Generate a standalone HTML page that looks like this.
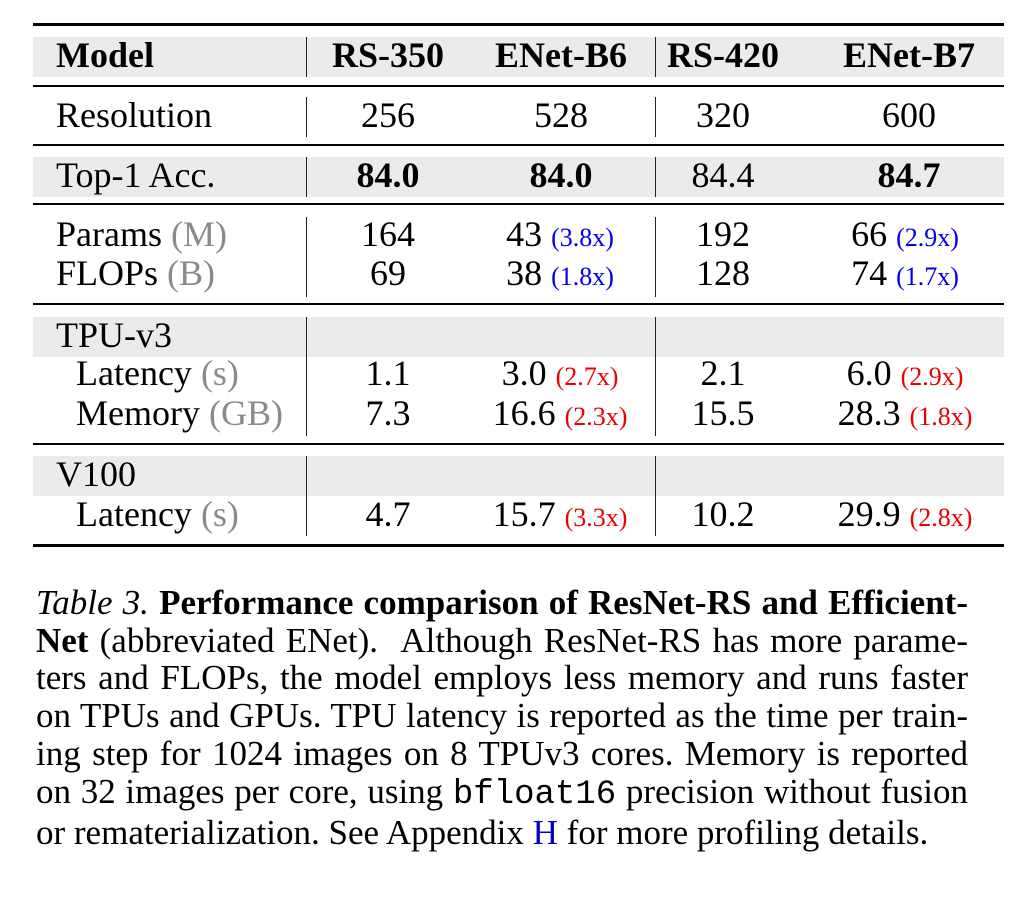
<!DOCTYPE html>
<html><head><meta charset="utf-8"><style>
body{margin:0;width:1020px;height:902px;background:#fff;position:relative;overflow:hidden;font-family:"Liberation Serif","Times New Roman",serif;color:#000}
.r{position:absolute;left:33px;width:971px;background:#000}
.g{position:absolute;left:33px;width:971px;background:#ebebeb}
.v{position:absolute;width:1.3px;background:#222}
.t{position:absolute;height:40px;line-height:40px;font-size:36px;white-space:nowrap}
.c{transform:translateX(-50%)}
.b{font-weight:bold}
.gr{color:#8a8a8a}
.a{font-size:26px}
.bl{color:#0000ee}.rd{color:#ee0000}
.cap{position:absolute;left:36px;width:932px;font-size:35px;line-height:37.7px}
.cap div{text-align:justify;text-align-last:justify;white-space:nowrap}
.cap div.l{text-align-last:left}
.mono{font-family:"Liberation Mono",monospace;font-size:34px}
</style></head><body>
<div class="r" style="top:23px;height:2.5px"></div>
<div class="g" style="top:37px;height:40px"></div>
<div class="r" style="top:85px;height:1.6px"></div>
<div class="r" style="top:144px;height:1.6px"></div>
<div class="g" style="top:157px;height:40px"></div>
<div class="r" style="top:203px;height:1.6px"></div>
<div class="r" style="top:303px;height:1.6px"></div>
<div class="g" style="top:317px;height:40px"></div>
<div class="r" style="top:443px;height:1.6px"></div>
<div class="g" style="top:456px;height:40px"></div>
<div class="r" style="top:544px;height:2.5px"></div>

<div class="v" style="left:306px;top:37px;height:40px"></div>
<div class="v" style="left:655px;top:37px;height:40px"></div>
<div class="v" style="left:306px;top:97px;height:40px"></div>
<div class="v" style="left:655px;top:97px;height:40px"></div>
<div class="v" style="left:306px;top:157px;height:40px"></div>
<div class="v" style="left:655px;top:157px;height:40px"></div>
<div class="v" style="left:306px;top:217px;height:80px"></div>
<div class="v" style="left:655px;top:217px;height:80px"></div>
<div class="v" style="left:306px;top:317px;height:119px"></div>
<div class="v" style="left:655px;top:317px;height:119px"></div>
<div class="v" style="left:306px;top:456px;height:80px"></div>
<div class="v" style="left:655px;top:456px;height:80px"></div>

<div class="t b" style="left:56px;top:35px">Model</div>
<div class="t b c" style="left:388px;top:35px">RS-350</div>
<div class="t b c" style="left:561px;top:35px">ENet-B6</div>
<div class="t b c" style="left:723px;top:35px">RS-420</div>
<div class="t b c" style="left:909px;top:35px">ENet-B7</div>

<div class="t" style="left:56px;top:95px">Resolution</div>
<div class="t c" style="left:388px;top:95px">256</div>
<div class="t c" style="left:561px;top:95px">528</div>
<div class="t c" style="left:723px;top:95px">320</div>
<div class="t c" style="left:909px;top:95px">600</div>

<div class="t" style="left:56px;top:155px">Top-1 Acc.</div>
<div class="t b c" style="left:388px;top:155px">84.0</div>
<div class="t b c" style="left:561px;top:155px">84.0</div>
<div class="t c" style="left:723px;top:155px">84.4</div>
<div class="t b c" style="left:909px;top:155px">84.7</div>

<div class="t" style="left:56px;top:214px">Params <span class="gr">(M)</span></div>
<div class="t c" style="left:388px;top:214px">164</div>
<div class="t c" style="left:560px;top:214px">43 <span class="a bl">(3.8x)</span></div>
<div class="t c" style="left:723px;top:214px">192</div>
<div class="t c" style="left:905px;top:214px">66 <span class="a bl">(2.9x)</span></div>
<div class="t" style="left:56px;top:253px">FLOPs <span class="gr">(B)</span></div>
<div class="t c" style="left:388px;top:253px">69</div>
<div class="t c" style="left:560px;top:253px">38 <span class="a bl">(1.8x)</span></div>
<div class="t c" style="left:723px;top:253px">128</div>
<div class="t c" style="left:905px;top:253px">74 <span class="a bl">(1.7x)</span></div>

<div class="t" style="left:56px;top:315px">TPU-v3</div>
<div class="t" style="left:76px;top:353px">Latency <span class="gr">(s)</span></div>
<div class="t c" style="left:388px;top:353px">1.1</div>
<div class="t c" style="left:560px;top:353px">3.0 <span class="a rd">(2.7x)</span></div>
<div class="t c" style="left:723px;top:353px">2.1</div>
<div class="t c" style="left:905px;top:353px">6.0 <span class="a rd">(2.9x)</span></div>
<div class="t" style="left:76px;top:393px">Memory <span class="gr">(GB)</span></div>
<div class="t c" style="left:388px;top:393px">7.3</div>
<div class="t c" style="left:560px;top:393px">16.6 <span class="a rd">(2.3x)</span></div>
<div class="t c" style="left:723px;top:393px">15.5</div>
<div class="t c" style="left:905px;top:393px">28.3 <span class="a rd">(1.8x)</span></div>

<div class="t" style="left:56px;top:454px">V100</div>
<div class="t" style="left:76px;top:494px">Latency <span class="gr">(s)</span></div>
<div class="t c" style="left:388px;top:494px">4.7</div>
<div class="t c" style="left:560px;top:494px">15.7 <span class="a rd">(3.3x)</span></div>
<div class="t c" style="left:723px;top:494px">10.2</div>
<div class="t c" style="left:905px;top:494px">29.9 <span class="a rd">(2.8x)</span></div>

<div class="cap" style="top:584px">
<div><i>Table 3.</i> <b>Performance comparison of ResNet-RS and Efficient-</b></div>
<div><b>Net</b> (abbreviated ENet). &nbsp;Although ResNet-RS has more parame-</div>
<div>ters and FLOPs, the model employs less memory and runs faster</div>
<div>on TPUs and GPUs. TPU latency is reported as the time per train-</div>
<div>ing step for 1024 images on 8 TPUv3 cores. Memory is reported</div>
<div>on 32 images per core, using <span class="mono">bfloat16</span> precision without fusion</div>
<div class="l">or rematerialization. See Appendix <span style="color:#0000cc">H</span> for more profiling details.</div>
</div>
</body></html>
